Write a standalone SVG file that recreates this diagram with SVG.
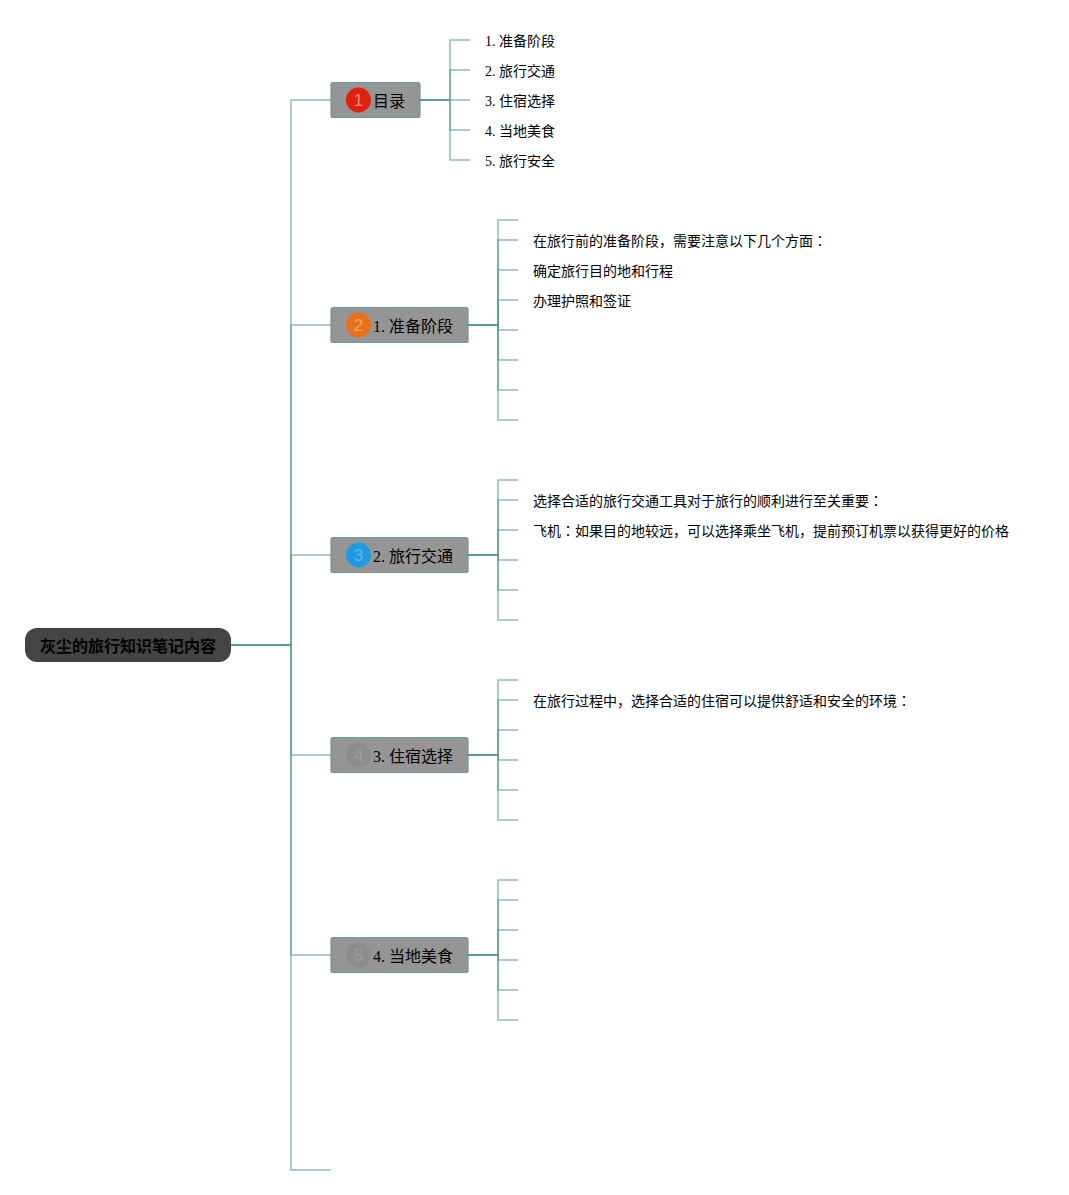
<svg xmlns="http://www.w3.org/2000/svg" width="1069" height="1195" viewBox="0 0 1069 1195">
<style>
.c{fill:none;stroke:#569b8a;stroke-width:2;stroke-opacity:.5}
.t{fill:#959595;stroke:#6a9c90;stroke-width:1.2}
text{font-family:"Liberation Serif","Noto Sans CJK SC",serif;fill:#000}
.tl{font-size:16px}
.l{font-size:14px}
.k{font-family:"Noto Sans CJK TC",serif}
.n{font-family:"Liberation Sans","Noto Sans",sans-serif;font-size:17px;text-anchor:middle}
</style>
<rect width="1069" height="1195" fill="#fff"/>
<g id="connectors">
<path class="c" d="M231 645H291V100H331"/><path class="c" d="M231 645H291V325H331"/><path class="c" d="M231 645H291V555H331"/><path class="c" d="M231 645H291V755H331"/><path class="c" d="M231 645H291V955H331"/><path class="c" d="M231 645H291V1170H331"/>
<path class="c" d="M420 100H450V40H470"/><path class="c" d="M420 100H450V70H470"/><path class="c" d="M420 100H470"/><path class="c" d="M420 100H450V130H470"/><path class="c" d="M420 100H450V160H470"/>
<path class="c" d="M468 325H498V220H518"/><path class="c" d="M468 325H498V240H518"/><path class="c" d="M468 325H498V270H518"/><path class="c" d="M468 325H498V300H518"/><path class="c" d="M468 325H498V330H518"/><path class="c" d="M468 325H498V360H518"/><path class="c" d="M468 325H498V390H518"/><path class="c" d="M468 325H498V420H518"/>
<path class="c" d="M468 555H498V480H518"/><path class="c" d="M468 555H498V500H518"/><path class="c" d="M468 555H498V530H518"/><path class="c" d="M468 555H498V560H518"/><path class="c" d="M468 555H498V590H518"/><path class="c" d="M468 555H498V620H518"/>
<path class="c" d="M468 755H498V680H518"/><path class="c" d="M468 755H498V700H518"/><path class="c" d="M468 755H498V730H518"/><path class="c" d="M468 755H498V760H518"/><path class="c" d="M468 755H498V790H518"/><path class="c" d="M468 755H498V820H518"/>
<path class="c" d="M468 955H498V880H518"/><path class="c" d="M468 955H498V900H518"/><path class="c" d="M468 955H498V930H518"/><path class="c" d="M468 955H498V960H518"/><path class="c" d="M468 955H498V990H518"/><path class="c" d="M468 955H498V1020H518"/>
</g>
<g id="root"><rect x="25" y="628" width="206" height="34" rx="12" fill="#444"/><text x="128" y="652" font-size="16" font-weight="bold" text-anchor="middle">灰尘的旅行知识笔记内容</text></g>
<g id="n0"><rect class="t" x="331" y="82.500" width="89" height="35" rx="2"/><circle cx="358.500" cy="100" r="12.500" fill="#e0210f"/><text class="n" x="358.500" y="106" style="fill:#f08a78">1</text><text class="tl" x="373" y="107">目录</text></g>
<g id="n1"><rect class="t" x="331" y="307.500" width="137" height="35" rx="2"/><circle cx="358.500" cy="325" r="12.500" fill="#e8701a"/><text class="n" x="358.500" y="331" style="fill:#f0a468">2</text><text class="tl" x="373" y="332">1. 准备阶段</text></g>
<g id="n2"><rect class="t" x="331" y="537.500" width="137" height="35" rx="2"/><circle cx="358.500" cy="555" r="12.500" fill="#1f9ce0"/><text class="n" x="358.500" y="561" style="fill:#68b4e0">3</text><text class="tl" x="373" y="562">2. 旅行交通</text></g>
<g id="n3"><rect class="t" x="331" y="737.500" width="137" height="35" rx="2"/><circle cx="358.500" cy="755" r="12.500" fill="#8d8d8d"/><text class="n" x="358.500" y="761" style="fill:#9c9c9c">4</text><text class="tl" x="373" y="762">3. 住宿选择</text></g>
<g id="n4"><rect class="t" x="331" y="937.500" width="137" height="35" rx="2"/><circle cx="358.500" cy="955" r="12.500" fill="#8d8d8d"/><text class="n" x="358.500" y="961" style="fill:#9c9c9c">5</text><text class="tl" x="373" y="962">4. 当地美食</text></g>
<g id="toc">
<text class="l" x="485" y="46">1. 准备阶段</text><text class="l" x="485" y="76">2. 旅行交通</text><text class="l" x="485" y="106">3. 住宿选择</text><text class="l" x="485" y="136">4. 当地美食</text><text class="l" x="485" y="166">5. 旅行安全</text>
</g>
<g id="leaves">
<text class="l" x="533" y="246">在旅行前的准备阶段，需要注意以下几个方面<tspan class="k">：</tspan></text>
<text class="l" x="533" y="276">确定旅行目的地和行程</text>
<text class="l" x="533" y="306">办理护照和签证</text>
<text class="l" x="533" y="506">选择合适的旅行交通工具对于旅行的顺利进行至关重要<tspan class="k">：</tspan></text>
<text class="l" x="533" y="536">飞机<tspan class="k">：</tspan>如果目的地较远，可以选择乘坐飞机，提前预订机票以获得更好的价格</text>
<text class="l" x="533" y="706">在旅行过程中，选择合适的住宿可以提供舒适和安全的环境<tspan class="k">：</tspan></text>
</g>
</svg>
